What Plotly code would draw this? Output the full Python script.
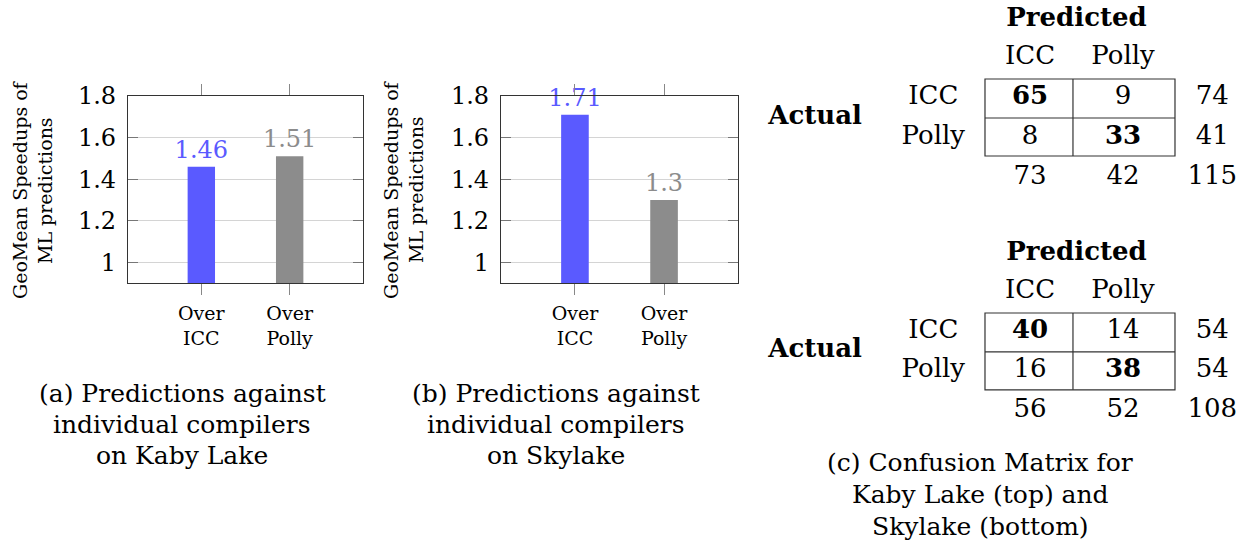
import plotly.graph_objects as go

# ---------------- data ----------------
categories = ["Over<br>ICC", "Over<br>Polly"]
kaby_speedups = [1.46, 1.51]
sky_speedups = [1.71, 1.30]
bar_colors = ["#5a5aff", "#8c8c8c"]
y_tick_vals = [1, 1.2, 1.4, 1.6, 1.8]
y_tick_text = ["1", "1.2", "1.4", "1.6", "1.8"]
y_title_lines = ["GeoMean Speedups of", "ML predictions"]

mat_classes = ["ICC", "Polly"]
kaby_matrix = [[65, 9], [8, 33]]
sky_matrix = [[40, 14], [16, 38]]

caption_a = ["(a) Predictions against", "individual compilers", "on Kaby Lake"]
caption_b = ["(b) Predictions against", "individual compilers", "on Skylake"]
caption_c = ["(c) Confusion Matrix for", "Kaby Lake (top) and", "Skylake (bottom)"]

# ---------------- layout helpers ----------------
W, H = 1248, 552
FONT = "DejaVu Serif, serif"


def px(x):
    return x / W


def py(y):
    return 1 - y / H


fig = go.Figure()

# ---------------- bar charts ----------------
for i, vals in enumerate([kaby_speedups, sky_speedups]):
    ax = "" if i == 0 else str(i + 1)
    fig.add_trace(go.Bar(
        x=list(range(len(categories))), y=vals,
        marker=dict(color=bar_colors, line=dict(width=0)),
        width=0.31,
        text=[f"{v:g}" for v in vals],
        textposition="outside",
        textfont=dict(family=FONT, size=24, color=bar_colors),
        cliponaxis=False, constraintext="none",
        xaxis="x" + ax, yaxis="y" + ax, showlegend=False,
    ))

common_x = dict(
    tickmode="array", tickvals=list(range(len(categories))), ticktext=categories,
    range=[-0.83, 1.83], showgrid=False, zeroline=False,
    showline=True, linecolor="#333333", linewidth=1.2, mirror="ticks",
    ticks="outside", ticklen=11, tickcolor="#888888", tickwidth=1,
    tickfont=dict(family=FONT, size=19, color="black"), ticklabelstandoff=2,
)
common_y = dict(
    tickmode="array", tickvals=y_tick_vals, ticktext=y_tick_text,
    range=[0.9, 1.8], showgrid=True, gridcolor="#d4d4d4", gridwidth=1,
    zeroline=False, showline=True, linecolor="#333333", linewidth=1.2,
    mirror="ticks", ticks="inside", ticklen=10, tickcolor="#777777",
    tickfont=dict(family=FONT, size=24, color="black"), ticklabelstandoff=6,
)

fig.update_layout(
    xaxis=dict(domain=[px(128), px(363)], anchor="y", **common_x),
    yaxis=dict(domain=[py(283), py(96)], anchor="x", **common_y),
    xaxis2=dict(domain=[px(501), px(738)], anchor="y2", **common_x),
    yaxis2=dict(domain=[py(283), py(96)], anchor="x2", **common_y),
)

annotations = []
# y-axis titles
for x_lines in ([20, 45], [391, 416]):
    for xl, line in zip(x_lines, y_title_lines):
        annotations.append(dict(
            text=line, x=px(xl), y=py(190), xref="paper", yref="paper",
            xanchor="center", yanchor="middle", textangle=-90, showarrow=False,
            font=dict(family=FONT, size=19, color="black"),
        ))

# captions
for cx, ys, lines in ((182, [393, 424, 455], caption_a),
                      (556, [393, 424, 455], caption_b),
                      (980, [462, 494, 526], caption_c)):
    for yy, line in zip(ys, lines):
        annotations.append(dict(
            text=line, x=px(cx), y=py(yy), xref="paper", yref="paper",
            xanchor="center", yanchor="middle", showarrow=False,
            font=dict(family=FONT, size=25, color="black"),
        ))

# ---------------- confusion matrices ----------------
COL0, COLW = 1030, 93  # pixel of column 0 and column spacing
x_range = [(px(749) * W - COL0) / COLW, (W - COL0) / COLW]
MFONT = dict(family=FONT, size=26, color="black")

shapes = []
mats = [
    (kaby_matrix, "3", [py(230), 1], 97, 40, (-0.45, 0.525, 1.475)),
    (sky_matrix, "4", [0, py(230)], 331, 39.5, (-0.456, 0.53, 1.49)),
]
box_x = (-0.484, 0.462, 1.559)
for mat, ax, ydom, row0, rowh, box_y in mats:
    top_px = (1 - ydom[1]) * H
    bot_px = (1 - ydom[0]) * H
    fig.update_layout(**{
        "xaxis" + ax: dict(domain=[px(749), 1], range=x_range, visible=False,
                           anchor="y" + ax, fixedrange=True),
        "yaxis" + ax: dict(domain=ydom, range=[(bot_px - row0) / rowh, (top_px - row0) / rowh],
                           visible=False, anchor="x" + ax, fixedrange=True),
    })
    n = len(mat_classes)
    xs, ys, ts = [], [], []
    for r in range(n):
        for c in range(n):
            xs.append(c)
            ys.append(r)
            ts.append(f"<b>{mat[r][c]}</b>" if r == c else str(mat[r][c]))
    row_tot = [sum(mat[r]) for r in range(n)]
    col_tot = [sum(mat[r][c] for r in range(n)) for c in range(n)]
    for r in range(n):
        xs.append(n - 0.04); ys.append(r); ts.append(str(row_tot[r]))
    for c in range(n):
        xs.append(c); ys.append(n); ts.append(str(col_tot[c]))
    xs.append(n - 0.04); ys.append(n); ts.append(str(sum(row_tot)))
    # headers
    for c, name in enumerate(mat_classes):
        xs.append(c); ys.append(-1); ts.append(name)
    for r, name in enumerate(mat_classes):
        xs.append(-1.04); ys.append(r); ts.append(name)
    xs.append(0.5); ys.append(-1.95); ts.append("<b>Predicted</b>")
    xs.append(-2.31); ys.append(0.5); ts.append("<b>Actual</b>")
    fig.add_trace(go.Scatter(
        x=xs, y=ys, text=ts, mode="text", textposition="middle center",
        textfont=MFONT, xaxis="x" + ax, yaxis="y" + ax, showlegend=False,
        hoverinfo="skip", cliponaxis=False,
    ))
    line = dict(color="#333333", width=1.2)
    shapes.append(dict(type="rect", xref="x" + ax, yref="y" + ax,
                       x0=box_x[0], x1=box_x[2], y0=box_y[0], y1=box_y[2], line=line))
    shapes.append(dict(type="line", xref="x" + ax, yref="y" + ax,
                       x0=box_x[1], x1=box_x[1], y0=box_y[0], y1=box_y[2], line=line))
    shapes.append(dict(type="line", xref="x" + ax, yref="y" + ax,
                       x0=box_x[0], x1=box_x[2], y0=box_y[1], y1=box_y[1], line=line))

fig.update_layout(
    width=W, height=H, autosize=False,
    margin=dict(l=0, r=0, t=0, b=0, autoexpand=False),
    paper_bgcolor="white", plot_bgcolor="white",
    font=dict(family=FONT, color="black"),
    annotations=annotations, shapes=shapes, showlegend=False,
)

fig.write_html(
    "out.html",
    config={"displayModeBar": False},
    post_script="document.body.style.margin='0';document.body.style.overflow='hidden';",
)
